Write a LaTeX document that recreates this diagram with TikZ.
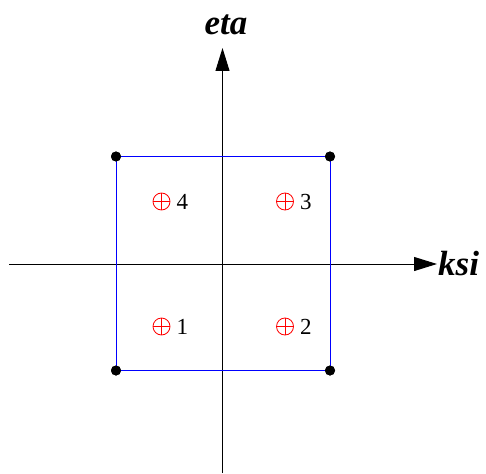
\documentclass[tikz,border=0pt]{standalone}
\usepackage{fontspec}
\setmainfont{Liberation Serif}
\usetikzlibrary{arrows.meta}
\begin{document}
\begin{tikzpicture}[x=1pt,y=-1pt,
  axis/.style={draw=black,line width=1pt,-{Triangle[length=23pt,width=14pt]}},
  corner/.style={circle,fill=black,inner sep=0pt,minimum size=10pt},
  edge/.style={draw=blue,line width=1pt},
  gauss/.style={circle,draw=red,line width=0.8pt,inner sep=0pt,minimum size=17pt,
    path picture={\draw[red,line width=0.8pt]
      (path picture bounding box.north) -- (path picture bounding box.south)
      (path picture bounding box.west) -- (path picture bounding box.east);},
    label={[font=\fontsize{23}{23}\selectfont,inner sep=0pt,xshift=6pt]right:#1}},
  axlabel/.style={font=\fontsize{35}{35}\selectfont\bfseries\itshape,inner sep=0pt}
]
\useasboundingbox (0,0) rectangle (486,473);
% axes
\coordinate (xs) at (9,264);
\coordinate (xe) at (437,264);
\coordinate (ys) at (222.5,473);
\coordinate (ye) at (222.5,48);
\draw[axis] (xs) -- (xe);
\draw[axis] (ys) -- (ye);
\node[axlabel,anchor=base west] (ksi) at (438,275) {ksi};
\node[axlabel,anchor=base] (eta) at (226,35) {eta};
% element
\node[corner] (c1) at (116,370.5) {};
\node[corner] (c2) at (330,370.5) {};
\node[corner] (c3) at (330,156.5) {};
\node[corner] (c4) at (116,156.5) {};
\draw[edge] (c1.center) -- (c2.center) -- (c3.center) -- (c4.center) -- cycle;
\node[corner] at (c1) {};
\node[corner] at (c2) {};
\node[corner] at (c3) {};
\node[corner] at (c4) {};
% gauss points
\node[gauss=1] (g1) at (161.5,326.5) {};
\node[gauss=2] (g2) at (285,326.5) {};
\node[gauss=3] (g3) at (285,201.5) {};
\node[gauss=4] (g4) at (161.5,201.5) {};
\end{tikzpicture}
\end{document}
